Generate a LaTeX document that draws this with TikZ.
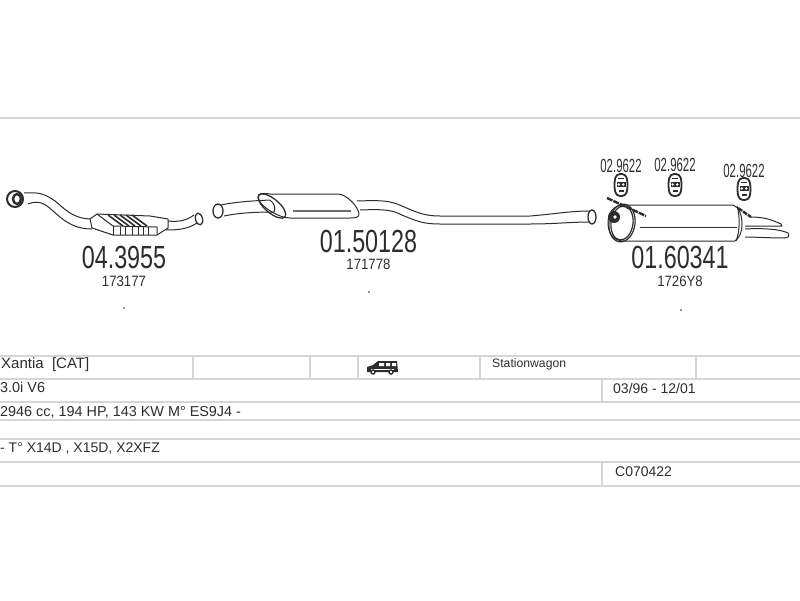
\documentclass[tikz,border=0pt]{standalone}
\usepackage{fontspec}
\setmainfont{Liberation Sans}
\usetikzlibrary{positioning}
\definecolor{rulegrey}{RGB}{214,214,214}
\definecolor{inkgrey}{RGB}{45,45,45}
\tikzset{
    rowline/.style={draw=rulegrey, line width=1.6pt},
    pipeline/.style={draw=inkgrey, line width=1pt, line join=round},
    partno/.style={inner sep=0pt, text=inkgrey, font=\fontsize{32}{32}\selectfont, xscale=0.73},
    refno/.style={inner sep=0pt, text=inkgrey, font=\fontsize{15}{15}\selectfont, xscale=0.88},
    hangerno/.style={inner sep=0pt, text=inkgrey, font=\fontsize{19}{19}\selectfont, xscale=0.6},
    rowtext/.style={inner sep=0pt, anchor=west, text=inkgrey, font=\fontsize{14}{14}\selectfont},
    hanger/.pic={
        \draw[pipeline, line width=1.8pt, fill=white, rounded corners=4pt]
            (-5,-11) -- (5,-11) -- (7,0) -- (5,11) -- (-5,11) -- (-7,0) -- cycle;
        \fill[inkgrey] (-4.5,-3) rectangle (4.5,2);
        \fill[white] (-2.3,-0.5) circle (1.4) (2.3,-0.5) circle (1.4);
        \fill[inkgrey] (-2.5,5) rectangle (2.5,7);
        \draw[pipeline] (-3,-7) -- (3,-7);
    }
}
\begin{document}
\begin{tikzpicture}[x=1pt, y=-1pt]
    \useasboundingbox (0,0) rectangle (800,600);

    % Table rules
    \draw[rulegrey, line width=1.2pt] (0,118) -- (800,118);
    \foreach \rowy in {356,379,402,420,439,462,486}
        \draw[rowline] (0,\rowy) -- (800,\rowy);
    \foreach \colx in {193,310,358,480,696}
        \draw[rowline] (\colx,356) -- (\colx,379);
    \draw[rowline] (602,379) -- (602,402);
    \draw[rowline] (602,462) -- (602,486);

    % Front pipe with catalyst
    \draw[pipeline] (24,193) .. controls (40,192) and (45,194) .. (55,201)
        .. controls (65,209) and (72,218) .. (90,219);
    \draw[pipeline] (28,204) .. controls (38,200) and (44,203) .. (52,210)
        .. controls (62,219) and (72,229) .. (92,229);
    \draw[pipeline, line width=2pt] (15,199) ellipse (8 and 8);
    \draw[pipeline, line width=2.4pt] (17,199) ellipse (4 and 5);
    \draw[pipeline, fill=white] (90,219) -- (97,214) -- (150,216) -- (168,219) -- (168,228)
        -- (157,235) -- (113,235) -- (92,228) -- cycle;
    \draw[pipeline] (97,214) -- (113,226) -- (157,227) -- (157,235);
    \draw[pipeline] (113,226) -- (113,235);
    \foreach \ribx in {120,125,132,138,143,148}
        \draw[pipeline] (\ribx,227) -- (\ribx,235);
    \foreach \ribx in {108,114,120,126,132}
        \draw[pipeline, line width=1.6pt] (\ribx,215) -- (\ribx+15,226);
    \draw[pipeline] (168,221) .. controls (178,222) and (186,221) .. (194,215);
    \draw[pipeline] (166,230) .. controls (178,230) and (188,229) .. (197,223);
    \draw[pipeline, line width=1.3pt, rotate around={15:(199,219)}] (199,219) ellipse (3.5 and 6);

    % Centre pipe with silencer
    \draw[pipeline, fill=white] (258,197) .. controls (258,193) and (262,193) .. (270,194)
        -- (338,194) .. controls (347,194) and (359,208) .. (359,214)
        .. controls (359,218) and (354,218) .. (350,218) -- (290,218)
        .. controls (278,218) and (258,205) .. (258,197) -- cycle;
    \draw[pipeline, line width=1.3pt, rotate around={50:(272,206)}] (272,206) ellipse (7 and 17);
    \draw[pipeline] (221,205) .. controls (235,202) and (250,201) .. (270,200)
        .. controls (274,203) and (276,208) .. (274,212);
    \draw[pipeline] (224,216) .. controls (238,213) and (255,212) .. (274,212);
    \draw[pipeline, line width=1.3pt] (218,211) ellipse (5 and 7);
    \draw[pipeline, line width=1.4pt, draw=inkgrey!70] (293,211) -- (351,211);
    \draw[pipeline] (357,201) .. controls (385,200) and (390,201) .. (402,206)
        .. controls (418,213) and (425,216) .. (440,216) -- (530,216)
        .. controls (555,214) and (570,211) .. (590,211);
    \draw[pipeline] (360,210) .. controls (385,209) and (392,210) .. (402,215)
        .. controls (418,222) and (425,224) .. (440,224) -- (530,224)
        .. controls (555,224) and (570,222) .. (590,222);
    \draw[pipeline, line width=1.3pt] (592,217) ellipse (4 and 7);

    % Rear silencer
    \draw[pipeline] (750,217) .. controls (765,217) and (772,220) .. (781,224) -- (782,226)
        .. controls (772,226) and (760,226) .. (745,226);
    \draw[pipeline] (745,229) .. controls (762,228) and (780,229) .. (788,233)
        .. controls (790,236) and (788,238) .. (784,238) .. controls (770,238) and (755,237) .. (745,237);
    \draw[pipeline, fill=white] (624,205) -- (733,205) .. controls (739,207) and (742,215) .. (742,224)
        .. controls (742,233) and (739,238) .. (735,241) -- (624,241)
        .. controls (614,241) and (608,234) .. (608,223) .. controls (608,212) and (614,205) .. (624,205) -- cycle;
    \draw[pipeline, line width=1.2pt, rotate around={-8:(622,223)}] (622,223) ellipse (11 and 17);
    \draw[pipeline, line width=1.2pt, rotate around={-8:(622,223)}] (622,223) ellipse (13 and 19);
    \draw[pipeline] (737,206) .. controls (740,215) and (740,232) .. (736,241);
    \draw[pipeline] (640,227) -- (737,227);
    \draw[inkgrey, line width=2.4pt, dash pattern=on 6pt off 1pt] (607,198) -- (646,216);
    \draw[inkgrey, line width=2.4pt, dash pattern=on 5pt off 1pt] (738,208) -- (751,217);
    \fill[inkgrey] (614,217) circle (6);
    \fill[white] (615,217) circle (1.8);

    % Hanger rubbers
    \pic at (621,185) {hanger};
    \pic at (675,185) {hanger};
    \pic at (744,189) {hanger};

    % Part numbers
    \node[partno] (catno) at (124,257) {04.3955};
    \node[refno, below=7pt of catno.south] (catref) {173177};
    \node[partno] (midno) at (368.500,241) {01.50128};
    \node[refno, below=6pt of midno.south] (midref) {171778};
    \node[partno] (rearno) at (680,257) {01.60341};
    \node[refno, below=7pt of rearno.south] (rearref) {1726Y8};
    \node[hangerno] (hangera) at (621,166) {02.9622};
    \node[hangerno] (hangerb) at (675,165) {02.9622};
    \node[hangerno] (hangerc) at (744,171) {02.9622};
    \fill[inkgrey] (124,308) circle (0.8) (369,292) circle (0.8) (681,310) circle (0.8);

    % Van symbol
    \fill[inkgrey] (367,372) -- (367,367) -- (373,365) -- (378,361) -- (397,361) -- (398,372) -- cycle;
    \fill[white] (379,363) rectangle (384,366) (386,363) rectangle (390,366) (392,363) rectangle (396,366);
    \fill[white] (371,369) rectangle (394,370);
    \draw[inkgrey, fill=white, line width=1.4pt] (373,372) circle (2) (391,372) circle (2);

    % Table texts
    \node[rowtext, font=\fontsize{15}{15}\selectfont] (model) at (1,365) {Xantia\ \ [CAT]};
    \node[rowtext, font=\fontsize{14.400}{14.400}\selectfont] (engine) at (0,387) {3.0i V6};
    \node[rowtext, font=\fontsize{14.400}{14.400}\selectfont] (specs) at (0,412) {2946 cc, 194 HP, 143 KW M° ES9J4 -};
    \node[rowtext] (types) at (0,448) {- T° X14D , X15D, X2XFZ};
    \node[rowtext, font=\fontsize{12.200}{12.200}\selectfont] (body) at (492,364) {Stationwagon};
    \node[rowtext] (years) at (613,388) {03/96 - 12/01};
    \node[rowtext] (code) at (615,472) {C070422};
\end{tikzpicture}
\end{document}
